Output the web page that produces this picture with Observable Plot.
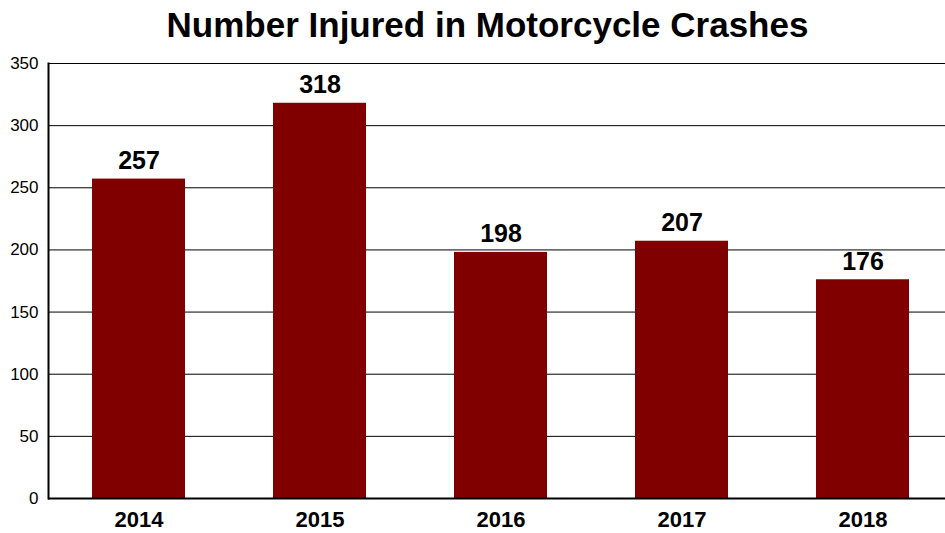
<!DOCTYPE html>
<html>
<head>
<meta charset="utf-8">
<script src="https://cdn.jsdelivr.net/npm/d3@7"></script>
<script src="https://cdn.jsdelivr.net/npm/@observablehq/plot@0.6"></script>
<style>
  html, body { margin: 0; padding: 0; background: #fff; }
  body { width: 945px; height: 533px; overflow: hidden; font-family: "Liberation Sans", Arial, sans-serif; }
  #title { height: 50px; line-height: 50px; font-size: 35px; font-weight: bold; text-align: center; color: #000; white-space: nowrap; padding-left: 30px; }
  #chart svg { display: block; }
</style>
</head>
<body>
<div id="title">Number Injured in Motorcycle Crashes</div>
<div id="chart"></div>
<script>
const years = ["2014", "2015", "2016", "2017", "2018"];
const injured = [257, 318, 198, 207, 176];
const yTicks = [0, 50, 100, 150, 200, 250, 300, 350];

const data = years.map((year, i) => ({year, value: injured[i]}));

const chart = Plot.plot({
  width: 945,
  height: 483,
  marginTop: 13,
  marginBottom: 35,
  marginLeft: 48,
  marginRight: 0,
  style: {fontFamily: "'Liberation Sans', Arial, sans-serif", background: "#fff", color: "#000", overflow: "visible"},
  x: {domain: years, range: [46, 955], paddingInner: 0.485, paddingOuter: 0.2425, label: null},
  y: {domain: [0, 350], label: null},
  marks: [
    Plot.ruleY(yTicks.filter(d => d > 0), {stroke: "#000", strokeWidth: 1, strokeOpacity: 1}),
    Plot.barY(data, {x: "year", y: "value", fill: "#800000"}),
    Plot.text(data, {x: "year", y: "value", text: d => String(d.value), lineAnchor: "bottom", dy: -10, fontSize: 25, fontWeight: "bold", fill: "#000"}),
    Plot.axisY({ticks: yTicks, tickSize: 0, tickPadding: 10, fontSize: 17, tickFormat: d => String(d), label: null}),
    Plot.axisX({tickSize: 0, tickPadding: 13, fontSize: 22, fontWeight: "bold", label: null}),
    Plot.ruleY([0], {stroke: "#000", strokeWidth: 2}),
    Plot.frame({anchor: "left", stroke: "#000", strokeWidth: 2})
  ]
});
document.getElementById("chart").appendChild(chart);
</script>
</body>
</html>
